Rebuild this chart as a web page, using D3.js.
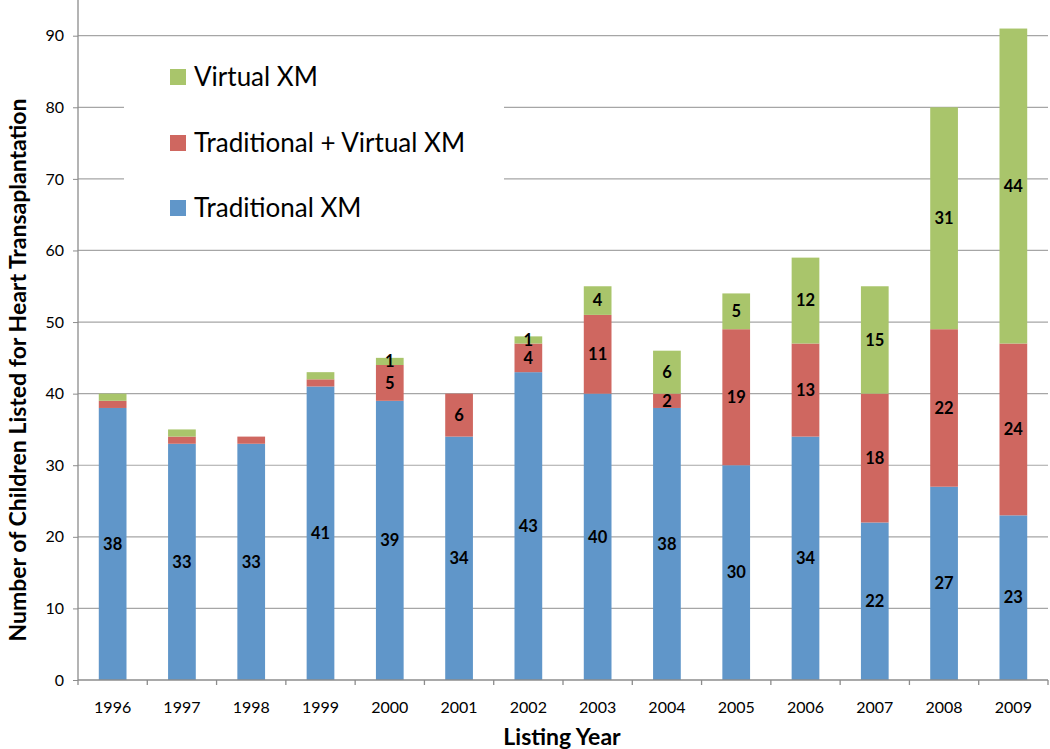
<!DOCTYPE html>
<html><head><meta charset="utf-8">
<script src="https://cdn.jsdelivr.net/npm/d3@7"></script>
<style>body{margin:0;background:#fff;} svg{display:block;}</style>
</head><body>
<svg id="chart" width="1050" height="749"></svg>
<script>
const years = ["1996","1997","1998","1999","2000","2001","2002","2003","2004","2005","2006","2007","2008","2009"];
const traditional = [38,33,33,41,39,34,43,40,38,30,34,22,27,23];
const tradVirtual = [1,1,1,1,5,6,4,11,2,19,13,18,22,24];
const virtualXM = [1,1,0,1,1,0,1,4,6,5,12,15,31,44];
// data labels as printed on the chart (null = not printed)
const tradLabels = [38,33,33,41,39,34,43,40,38,30,34,22,27,23];
const tradVirtualLabels = [null,null,null,null,5,6,4,11,2,19,13,18,22,24];
const virtualLabels = [null,null,null,null,1,null,1,4,6,5,12,15,31,44];
const yTicks = [0,10,20,30,40,50,60,70,80,90];
const seriesNames = ["Traditional XM","Traditional + Virtual XM","Virtual XM"];
const seriesColors = ["#6096c9","#cf6760","#a9c56b"];

const svg = d3.select("#chart");
const left = 78, right = 1048, bottom = 680;
const font = "Lato, 'Open Sans', sans-serif";
const x = d3.scaleBand().domain(years).range([left, right]).paddingInner(0.6).paddingOuter(0.3);
const xb = d3.scaleBand().domain(years).range([left, right]);
const y = d3.scaleLinear().domain([0, 90]).range([bottom, 35.7]);

// gridlines
svg.append("g").selectAll("line").data(yTicks.filter(d => d > 0)).join("line")
  .attr("x1", left).attr("x2", right)
  .attr("y1", d => y(d)).attr("y2", d => y(d))
  .attr("stroke", "#a6a6a6").attr("stroke-width", 1.2);

// legend background box (covers gridlines)
svg.append("rect").attr("x", 124).attr("y", 50).attr("width", 380).attr("height", 190).attr("fill", "#fff");

// stacked data
const table = years.map((yr, i) => ({year: yr, t: traditional[i], tv: tradVirtual[i], v: virtualXM[i], i}));
const stack = d3.stack().keys(["t","tv","v"])(table);
const labelArrs = [tradLabels, tradVirtualLabels, virtualLabels];

const gBars = svg.append("g");
stack.forEach((layer, si) => {
  gBars.append("g").selectAll("rect").data(layer).join("rect")
    .attr("x", d => x(d.data.year))
    .attr("width", x.bandwidth())
    .attr("y", d => y(d[1]))
    .attr("height", d => y(d[0]) - y(d[1]))
    .attr("fill", seriesColors[si]);
});
stack.forEach((layer, si) => {
  gBars.append("g").selectAll("text").data(layer.filter(d => labelArrs[si][d.data.i] != null)).join("text")
    .attr("x", d => x(d.data.year) + x.bandwidth() / 2)
    .attr("y", d => y((d[0] + d[1]) / 2))
    .attr("dy", "0.35em")
    .attr("text-anchor", "middle")
    .attr("font-family", font)
    .attr("font-weight", "bold")
    .attr("font-size", 16.5)
    .attr("fill", "#000")
    .text(d => labelArrs[si][d.data.i]);
});

// y axis
const yAxis = svg.append("g").attr("transform", `translate(${left},0)`)
  .call(d3.axisLeft(y).tickValues(yTicks).tickSize(5).tickSizeOuter(0));
yAxis.select(".domain").remove();
svg.append("line").attr("x1", left).attr("x2", left).attr("y1", 0).attr("y2", bottom).attr("stroke", "#8c8c8c").attr("stroke-width", 1.3);
yAxis.selectAll(".tick line").attr("stroke", "#8c8c8c");
yAxis.selectAll("text").attr("font-family", font).attr("font-size", 16).attr("fill", "#000").attr("x", -14);

// x axis
const xAxis = svg.append("g").attr("transform", `translate(0,${bottom})`)
  .call(d3.axisBottom(x).tickSize(0).tickSizeOuter(0));
xAxis.select(".domain").remove();
xAxis.selectAll("text").attr("font-family", font).attr("font-size", 16).attr("fill", "#000").attr("dy", "0").attr("y", 33);
svg.append("line").attr("x1", left).attr("x2", right).attr("y1", bottom).attr("y2", bottom).attr("stroke", "#8c8c8c").attr("stroke-width", 1.3);
svg.append("g").selectAll("line").data(years.concat(["end"])).join("line")
  .attr("x1", (d, i) => i < years.length ? xb(d) : right)
  .attr("x2", (d, i) => i < years.length ? xb(d) : right)
  .attr("y1", bottom).attr("y2", bottom + 5)
  .attr("stroke", "#8c8c8c").attr("stroke-width", 1.3);

// axis titles
svg.append("text").attr("x", 562).attr("y", 745)
  .attr("text-anchor", "middle").attr("font-family", font)
  .attr("font-weight", "bold").attr("font-size", 23).text("Listing Year");
svg.append("text").attr("transform", "translate(26,370) rotate(-90)")
  .attr("text-anchor", "middle").attr("font-family", font)
  .attr("font-weight", "bold").attr("font-size", 23).text("Number of Children Listed for Heart Transaplantation");

// legend
const legendOrder = [2,1,0];
const legendY = [77, 143, 208];
const lg = svg.append("g");
legendOrder.forEach((si, k) => {
  lg.append("rect").attr("x", 170).attr("y", legendY[k] - 8).attr("width", 16).attr("height", 16).attr("fill", seriesColors[si]);
  lg.append("text").attr("x", 194).attr("y", legendY[k]).attr("dy", "0.36em")
    .attr("font-family", font).attr("font-size", 26).attr("fill", "#000")
    .text(seriesNames[si]);
});
</script>
</body></html>
